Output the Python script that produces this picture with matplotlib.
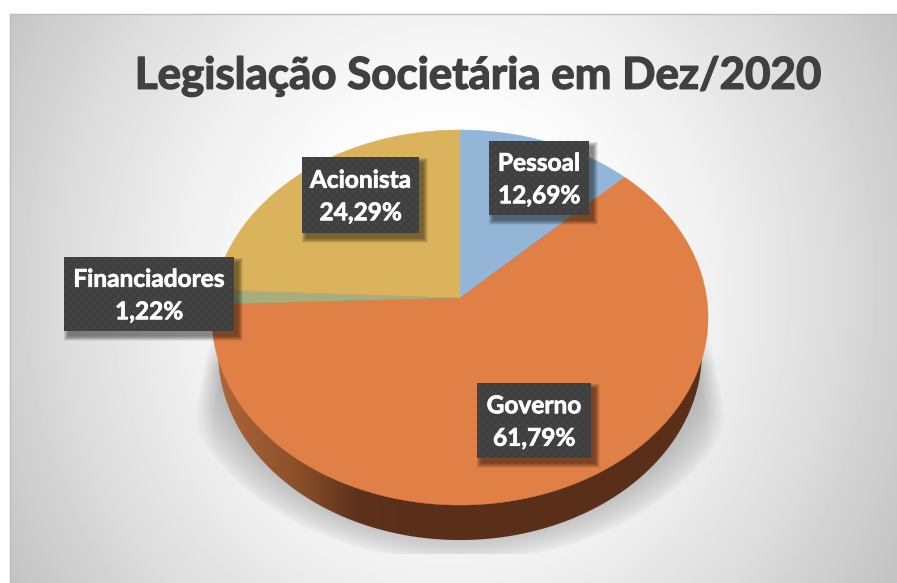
import numpy as np
import matplotlib
matplotlib.use("Agg")
import matplotlib.pyplot as plt
import matplotlib.patheffects as pe
from matplotlib.colors import LinearSegmentedColormap
from matplotlib.patches import Polygon, Rectangle

# Data
title = "Legislação Societária em Dez/2020"
categories = ["Pessoal", "Governo", "Financiadores", "Acionista"]
values = [12.69, 61.79, 1.22, 24.29]
colors = ["#93b6d8", "#e08046", "#a6ae80", "#dab35c"]

# label box as left, top, right, bottom in pixels
boxes = [(489, 141, 589, 215), (477, 383, 591, 458), (64, 257, 234, 331), (302, 157, 419, 233)]

W, H = 897, 583
cx, cy = 460, 298     # apex of the pie
rx = 246.7
up = 185.5
persp = 0.104         # near edge looks bigger
depth = 35

fig = plt.figure(figsize=(W / 100, H / 100), dpi=100)
ax = fig.add_axes([0, 0, 1, 1])
ax.set_xlim(0, W)
ax.set_ylim(H, 0)
ax.axis("off")
plt.rcParams["font.family"] = ["Lato", "DejaVu Sans"]


def project(theta):
    # theta is clockwise from 12 o'clock
    d = 1 + persp * np.cos(theta)
    return cx + rx * np.sin(theta) / d, cy - up * np.cos(theta) / d


# Background gradient
yy, xx = np.mgrid[0:H, 0:W] + 0.5
r = np.sqrt(((xx - 450) / 445) ** 2 + ((yy - 285) / 500) ** 2)
bg = np.interp(r, [0, 0.35, 0.6, 0.87, 1.0, 1.16], [255, 252, 240, 220, 208, 195]) / 255
ax.imshow(bg, cmap="gray", vmin=0, vmax=1, extent=[0, W, H, 0], aspect="auto", zorder=0)
ax.add_patch(Rectangle((0, 0), W, 14, fc="white", ec="none", zorder=1))
ax.add_patch(Rectangle((0, 0), 9.5, H, fc="white", ec="none", zorder=1))
ax.plot([9.5, 9.5], [14, H], color="#bcbcbc", lw=1, zorder=1)
ax.plot([9.5, W], [14, 14], color="#bcbcbc", lw=1, zorder=1)

# Soft shadow under the pie
rho = np.sqrt(((xx - 460) / 290) ** 2 + ((yy - 340) / 222) ** 2)
sh = np.clip((1 - rho) / 0.16, 0, 1) ** 0.7
side = 196 + np.clip(415 - yy, 0, 80) * 0.21
sh = sh * np.clip((np.abs(xx - 460) * -1 + 460 - side + 2) / 20, 0, 1) ** 0.7
sh = sh * np.clip((yy - 330) / 35, 0, 1)
sh = sh * (yy < 554)
rgba = np.zeros((H, W, 4))
rgba[..., :3] = 0.35
rgba[..., 3] = sh * 0.40
ax.imshow(rgba, extent=[0, W, H, 0], aspect="auto", zorder=2)

# Side wall
t = np.linspace(0, 2 * np.pi, 720)
ex, ey = project(t)
low_x = cx + 0.975 * (ex - cx)
low_y = ey + depth
wall = Polygon(np.column_stack([low_x, low_y]), closed=True, fc="none", ec="none", transform=ax.transData)
ax.add_patch(wall)
wall_cmap = LinearSegmentedColormap.from_list("wall", ["#b0683c", "#8b5029", "#5d311b", "#5a2f1a"])
grad = np.interp(xx[0], [213, 300, 400, 460], [0, 0.35, 0.9, 1])[None, :]
img = ax.imshow(grad, cmap=wall_cmap, vmin=0, vmax=1, extent=[0, W, H, 0], aspect="auto", zorder=3)
img.set_clip_path(wall)

# Top face
fracs = np.array(values) / sum(values)
edges = np.concatenate([[0], np.cumsum(fracs)]) * 2 * np.pi
for i in range(len(values)):
    a = np.linspace(edges[i], edges[i + 1], 200)
    px, py = project(a)
    ax.fill(np.r_[cx, px], np.r_[cy, py], color=colors[i], lw=0.3, zorder=4)

# Data labels
for name, val, (l, t_, r_, b) in zip(categories, values, boxes):
    for k in range(10):
        grow = 9 - k
        ax.add_patch(Rectangle((l + 4 - grow / 2, t_ + 5 - grow / 2), r_ - l + grow, b - t_ + grow,
                               fc="black", ec="none", alpha=0.055, zorder=5))
    ax.add_patch(Rectangle((l, t_), r_ - l, b - t_, fc="#404040", ec="none", zorder=6))
    # dotted texture
    dots_x, dots_y = [], []
    for row, y in enumerate(np.arange(t_ + 2, b, 4)):
        for x in np.arange(l + 2 + (row % 2) * 4, r_ - 1, 8):
            dots_x.append(x)
            dots_y.append(y)
    ax.scatter(dots_x, dots_y, s=2.2, color="#4e4e4e", lw=0, zorder=7)
    label = f"{name}\n{val:.2f}%".replace(".", ",")
    ax.text((l + r_) / 2, (t_ + b) / 2 + 1.5, label, color="white", fontsize=17.6, fontweight="bold",
            ha="center", va="center", linespacing=1.5, zorder=8,
            path_effects=[pe.withStroke(linewidth=0.5, foreground="white")])

ax.text(478, 76, title, color="#404040", fontsize=31.6, fontweight="bold", ha="center", va="center", zorder=8,
        path_effects=[pe.withStroke(linewidth=1.0, foreground="#404040")])

fig.savefig("out.png", dpi=100)
